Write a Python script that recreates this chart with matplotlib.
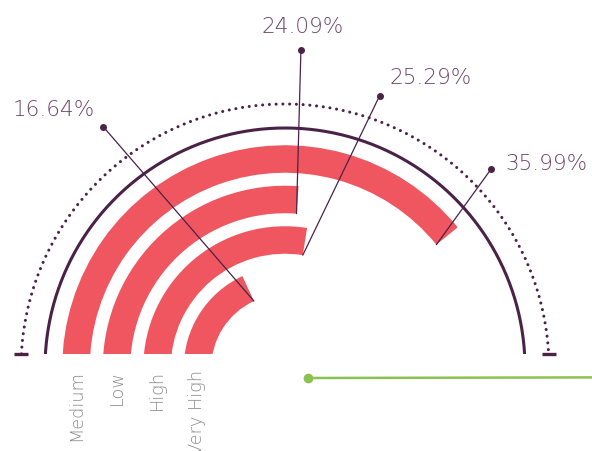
import numpy as np
import matplotlib
matplotlib.use("Agg")
import matplotlib.pyplot as plt
from matplotlib.patches import Rectangle
from matplotlib.lines import Line2D

# ---------------- data ----------------
categories = ["Medium", "Low", "High", "Very High"]
values = [35.99, 24.09, 25.29, 16.64]
value_labels = ["35.99%", "24.09%", "25.29%", "16.64%"]
VMAX = 46.0  # value that maps to the full half circle

# ---------------- layout / style ----------------
W, H, DPI = 592, 452, 100
CX, CY = 285, 369          # centre of the gauge (pixels from top-left)
RMAX = 340                 # radial units == pixels
CLIP_DY = 14               # everything is cut 14 px above the centre line
PITCH, THICK, R_FIRST = 40.5, 27.5, 87.5
R_SOLID, R_DOTTED = 240, 264
label_dtheta = [-4.8, -1.4, 10.2, -12.1]    # degrees, leader dot offset
label_r = [286, 318, 288, 302]              # leader dot radius
label_offset = [(15, 0, "left"), (2, 18, "center"), (10, 13, "left"), (-8, 12, "right")]

BAR_COLOR = "#f0565f"
DARK = "#4b2247"
TEXT_COLOR = "#6e4567"
CAT_COLOR = "#8c8c8c"

fig = plt.figure(figsize=(W / DPI, H / DPI), dpi=DPI)
ax = fig.add_axes([(CX - RMAX) / W, (H - CY - RMAX) / H, 2 * RMAX / W, 2 * RMAX / H],
                  projection="polar")
ax.set_theta_zero_location("W")
ax.set_theta_direction(-1)
ax.set_ylim(0, RMAX)
ax.set_axis_off()

clip_frac = 0.5 + CLIP_DY / (2 * RMAX)
clip_rect = Rectangle((0, clip_frac), 1, 1 - clip_frac, transform=ax.transAxes)

n = len(categories)
r_mid = np.array([R_FIRST + (n - 1 - i) * PITCH for i in range(n)])
theta_end = np.deg2rad(np.array(values) / VMAX * 180.0)

bars = ax.bar(np.zeros(n), THICK, width=theta_end, bottom=r_mid - THICK / 2,
              align="edge", color=BAR_COLOR, edgecolor="none", zorder=2)
for b in bars:
    b.set_clip_path(clip_rect)

# axis arcs
th = np.linspace(-0.1, np.pi + 0.1, 400)
l1, = ax.plot(th, np.full_like(th, R_SOLID), color=DARK, lw=2.2, zorder=1,
              solid_capstyle="butt")
l1.set_clip_path(clip_rect)
l2, = ax.plot(th, np.full_like(th, R_DOTTED), color=DARK, lw=2.2, zorder=1,
              linestyle=(0, (0.01, 2.2)), dash_capstyle="round")
l2.set_clip_path(clip_rect)

# end ticks of dotted arc
t_clip = np.arcsin(CLIP_DY / R_DOTTED)
ax.plot([t_clip, np.pi - t_clip], [R_DOTTED, R_DOTTED], linestyle="none",
        marker="_", markersize=10, markeredgewidth=2.4, color=DARK, clip_on=False)

# leaders + value labels
for i in range(n):
    t0 = theta_end[i]
    r0 = r_mid[i] - THICK / 2
    t1 = t0 + np.deg2rad(label_dtheta[i])
    r1 = label_r[i]
    ax.annotate("", xy=(t0, r0), xytext=(t1, r1),
                arrowprops=dict(arrowstyle="-", color=DARK, lw=0.9,
                                shrinkA=0, shrinkB=0), zorder=3, annotation_clip=False)
    ax.plot([t1], [r1], marker="o", markersize=4, color=DARK, clip_on=False, zorder=4)
    dx, dy, ha = label_offset[i]
    ax.annotate(value_labels[i], xy=(t1, r1), xytext=(dx, dy), textcoords="offset pixels",
                ha=ha, va="baseline", fontsize=15.5, color=TEXT_COLOR,
                fontfamily="DejaVu Sans", fontweight="light", annotation_clip=False)

# category labels
for i in range(n):
    ax.annotate(categories[i], xy=(0, r_mid[i]), xytext=(0, -1), textcoords="offset pixels",
                rotation=90, ha="center", va="top", fontsize=12.8, color=CAT_COLOR,
                fontfamily="DejaVu Sans", fontweight="light", annotation_clip=False)

# green line decoration at bottom right
gy = 1 - 379 / H
fig.add_artist(Line2D([308 / W, 1.0], [gy, gy + 0.6 / H], color="#8cc152", lw=1.8,
                      transform=fig.transFigure))
fig.add_artist(Line2D([308 / W], [gy], marker="o", markersize=6, color="#8cc152",
                      transform=fig.transFigure))

fig.savefig("out.png", dpi=DPI, facecolor="white")
